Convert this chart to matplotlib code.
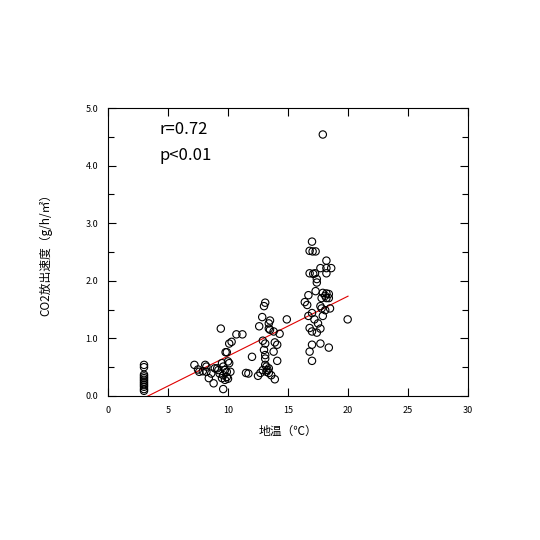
import matplotlib
matplotlib.use('Agg')
import matplotlib.pyplot as plt
from matplotlib.ticker import MultipleLocator
import numpy as np

plt.rcParams['font.family'] = ['Noto Sans CJK JP', 'DejaVu Sans']

# soil temperature (deg C) and CO2 release rate (g/h/m2)
temp = [
    3, 3, 3, 3, 3, 3, 3, 3, 3, 3, 3, 3,
    7.2, 7.5, 7.6, 7.9, 8.1, 8.2, 8.2, 8.4, 8.6, 8.8, 8.9, 9.1, 9.2, 9.3,
    9.4, 9.5, 9.5, 9.6, 9.6, 9.6, 9.75, 9.75, 9.8, 9.9, 9.9, 9.9, 10.0,
    10.0, 10.1, 10.1, 10.2, 10.3, 10.7, 11.2, 11.5, 11.7, 12.0,
    12.5, 12.6, 12.7, 12.85, 12.9, 12.9, 13.0, 13.0, 13.1, 13.1, 13.1,
    13.1, 13.1, 13.2, 13.2, 13.3, 13.4, 13.4, 13.4, 13.4, 13.5, 13.5,
    13.6, 13.8, 13.8, 13.9, 13.9, 14.1, 14.1, 14.3, 14.9,
    16.4, 16.6, 16.7, 16.7, 16.8, 16.8, 16.8, 16.8, 17.0, 17.0, 17.0,
    17.0, 17.0, 17.05, 17.1, 17.2, 17.25, 17.3, 17.3, 17.4, 17.4, 17.4,
    17.5, 17.7, 17.7, 17.7, 17.7, 17.8, 17.8, 17.9, 17.9, 17.9, 18.1,
    18.1, 18.2, 18.2, 18.2, 18.2, 18.2, 18.4, 18.4, 18.4, 18.5, 18.6, 19.97,
]
rate = [
    0.54, 0.50, 0.37, 0.34, 0.31, 0.28, 0.25, 0.22, 0.19, 0.16, 0.12, 0.09,
    0.54, 0.46, 0.42, 0.43, 0.54, 0.51, 0.42, 0.31, 0.39, 0.22, 0.48, 0.48,
    0.45, 0.39, 1.17, 0.57, 0.31, 0.51, 0.36, 0.12, 0.45, 0.28, 0.76, 0.76,
    0.42, 0.33, 0.60, 0.30, 0.57, 0.91, 0.42, 0.94, 1.07, 1.07, 0.40, 0.39,
    0.68,
    0.35, 1.21, 0.40, 1.37, 0.96, 0.45, 1.56, 0.80, 1.62, 0.91, 0.71,
    0.65, 0.54, 0.51, 0.42, 0.45, 1.26, 1.17, 0.48, 0.40, 1.31, 1.15,
    0.36, 1.12, 0.77, 0.93, 0.29, 0.89, 0.61, 1.08, 1.33,
    1.63, 1.58, 1.75, 1.39, 2.52, 2.13, 1.18, 0.77, 2.68, 1.44, 1.12,
    0.89, 0.61, 2.51, 2.12, 1.33, 2.13, 2.51, 1.82, 2.03, 1.97, 1.10,
    1.26, 2.22, 1.56, 1.17, 0.91, 1.70, 1.52, 4.54, 1.79, 1.39, 1.74,
    1.49, 2.35, 2.22, 2.13, 1.78, 1.70, 1.77, 1.70, 0.84, 1.52, 2.22, 1.33,
]

# regression line as drawn on the chart
fit_slope = 0.104
fit_intercept = -0.347
fit_range = [3, 20]

stats_lines = ['r=0.72', 'p<0.01']

fig = plt.figure(figsize=(5.4, 5.4), dpi=100)
ax = fig.add_axes([0.2, 0.2667, 0.6667, 0.5333])

ax.scatter(temp, rate, s=28, facecolors='none', edgecolors='black',
           linewidths=0.8, zorder=3)

fx = np.array(fit_range, dtype=float)
ax.plot(fx, fit_slope * fx + fit_intercept, color='#e00000', lw=0.8, zorder=2)

ax.set_xlim(0, 30)
ax.set_ylim(0, 5)
ax.xaxis.set_major_locator(MultipleLocator(5))
ax.yaxis.set_major_locator(MultipleLocator(1))
ax.yaxis.set_minor_locator(MultipleLocator(0.5))
ax.yaxis.set_major_formatter(matplotlib.ticker.FormatStrFormatter('%.1f'))

ax.tick_params(which='both', direction='in', top=True, right=True,
               labelsize=6.5, width=0.8, pad=7)
ax.tick_params(which='major', length=6)
ax.tick_params(which='minor', length=4)
for s in ax.spines.values():
    s.set_linewidth(0.8)

ax.set_xlabel('地温（℃）', fontsize=8.5, labelpad=7)
ax.set_ylabel('CO2放出速度（g/h/㎡）', fontsize=8.5, labelpad=24)

ax.text(4.3, 4.62, stats_lines[0], fontsize=12, va='center', ha='left')
ax.text(4.3, 4.18, stats_lines[1], fontsize=12, va='center', ha='left')

fig.savefig('out.png', dpi=100)
